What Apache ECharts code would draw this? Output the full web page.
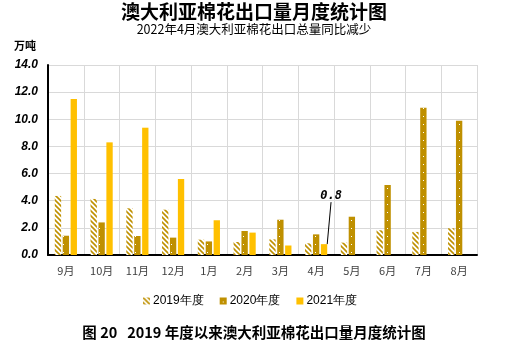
<!DOCTYPE html>
<html>
<head>
<meta charset="utf-8">
<script src="https://cdn.jsdelivr.net/npm/echarts@6/dist/echarts.min.js"></script>
<style>
  html, body { margin: 0; padding: 0; background: #fff; }
  #chart { width: 508px; height: 353px; }
</style>
</head>
<body>
<div id="chart"></div>
<script>
var months = ['9月', '10月', '11月', '12月', '1月', '2月', '3月', '4月', '5月', '6月', '7月', '8月'];
var seriesNames = ['2019年度', '2020年度', '2021年度'];
var y2019 = [4.35, 4.13, 3.44, 3.34, 1.13, 0.96, 1.15, 0.86, 0.91, 1.82, 1.70, 1.97];
var y2020 = [1.42, 2.40, 1.40, 1.28, 1.00, 1.77, 2.60, 1.52, 2.82, 5.16, 10.85, 9.90];
var y2021 = [11.50, 8.30, 9.38, 5.60, 2.56, 1.65, 0.70, 0.80, null, null, null, null];
var yTicks = [0, 2, 4, 6, 8, 10, 12, 14];

var gold = '#BF9000';
var yellow = '#FFC000';

// 斜线填充（2019年度）
function stripePattern () {
  var c = document.createElement('canvas');
  c.width = 5; c.height = 5;
  var ctx = c.getContext('2d');
  ctx.fillStyle = '#fff';
  ctx.fillRect(0, 0, 5, 5);
  ctx.strokeStyle = gold;
  ctx.lineWidth = 1.6;
  ctx.beginPath();
  ctx.moveTo(-1, -1); ctx.lineTo(6, 6);
  ctx.moveTo(-1, 4); ctx.lineTo(1, 6);
  ctx.moveTo(4, -1); ctx.lineTo(6, 1);
  ctx.stroke();
  return c;
}
// 白点填充（2020年度）
function dotPattern () {
  var c = document.createElement('canvas');
  c.width = 6; c.height = 8;
  var ctx = c.getContext('2d');
  ctx.fillStyle = gold;
  ctx.fillRect(0, 0, 6, 8);
  ctx.fillStyle = '#fff';
  ctx.fillRect(3, 4, 1, 1);
  return c;
}

var chart = echarts.init(document.getElementById('chart'));

var data2021 = y2021.map(function (v, i) {
  if (i === 7) {
    return {
      value: v,
      label: {
        show: true,
        position: 'top',
        formatter: function (p) { return p.value.toFixed(1); },
        fontFamily: 'DejaVu Sans Mono',
        fontWeight: 'bold',
        fontStyle: 'italic',
        fontSize: 12,
        color: '#000'
      },
      labelLine: { show: true, lineStyle: { color: '#000', width: 1 } }
    };
  }
  return v;
});

var option = {
  animation: false,
  backgroundColor: '#fff',
  title: [
    {
      text: '澳大利亚棉花出口量月度统计图',
      left: 249, top: -3, textAlign: 'center',
      textStyle: { fontFamily: 'Noto Sans CJK SC', fontWeight: 'bold', fontSize: 19, color: '#000' }
    },
    {
      text: '2022年4月澳大利亚棉花出口总量同比减少',
      left: 249, top: 18, textAlign: 'center',
      textStyle: { fontFamily: 'Noto Sans CJK SC', fontWeight: 'normal', fontSize: 12.5, color: '#000' }
    },
    {
      text: '万吨',
      left: 9, top: 35,
      textStyle: { fontFamily: 'Noto Sans CJK SC', fontWeight: 'bold', fontSize: 11, color: '#000' }
    },
    {
      text: '图 20   2019 年度以来澳大利亚棉花出口量月度统计图',
      left: 249, top: 320, textAlign: 'center',
      textStyle: { fontFamily: 'Noto Sans CJK SC', fontWeight: 'bold', fontSize: 14.5, color: '#000' }
    }
  ],
  legend: {
    data: seriesNames,
    left: 138, top: 290,
    icon: 'rect',
    itemWidth: 7, itemHeight: 7,
    itemGap: 16,
    textStyle: { fontFamily: 'Liberation Sans', fontSize: 12, color: '#000', padding: [0, 0, 0, -2] }
  },
  grid: { left: 48, right: 31, top: 65, bottom: 98 },
  xAxis: {
    type: 'category',
    data: months,
    axisLine: { lineStyle: { color: '#000', width: 2 } },
    axisTick: { show: false },
    axisLabel: { color: '#404040', fontSize: 11, margin: 10, fontFamily: 'Noto Sans CJK SC' },
    splitLine: { show: true, lineStyle: { color: '#D9D9D9', width: 1 } }
  },
  yAxis: {
    type: 'value',
    min: yTicks[0], max: yTicks[yTicks.length - 1], interval: 2,
    axisLine: { show: true, lineStyle: { color: '#000', width: 2 } },
    axisTick: { show: false },
    axisLabel: {
      formatter: function (v) { return v.toFixed(1); },
      color: '#000', fontSize: 12, fontWeight: 'bold', fontStyle: 'italic',
      fontFamily: 'Liberation Sans', margin: 10
    },
    splitLine: { lineStyle: { color: '#D9D9D9', width: 1 } }
  },
  series: [
    {
      name: seriesNames[0], type: 'bar', data: y2019,
      barGap: '25%', barCategoryGap: '38%',
      itemStyle: { color: { image: stripePattern(), repeat: 'repeat' } }
    },
    {
      name: seriesNames[1], type: 'bar', data: y2020,
      itemStyle: { color: { image: dotPattern(), repeat: 'repeat' } }
    },
    {
      name: seriesNames[2], type: 'bar', data: data2021,
      itemStyle: { color: yellow },
      labelLayout: function (p) {
        if (p.dataIndex === 7) return { dx: 7, dy: -37 };
      }
    }
  ]
};
chart.setOption(option);
</script>
</body>
</html>
